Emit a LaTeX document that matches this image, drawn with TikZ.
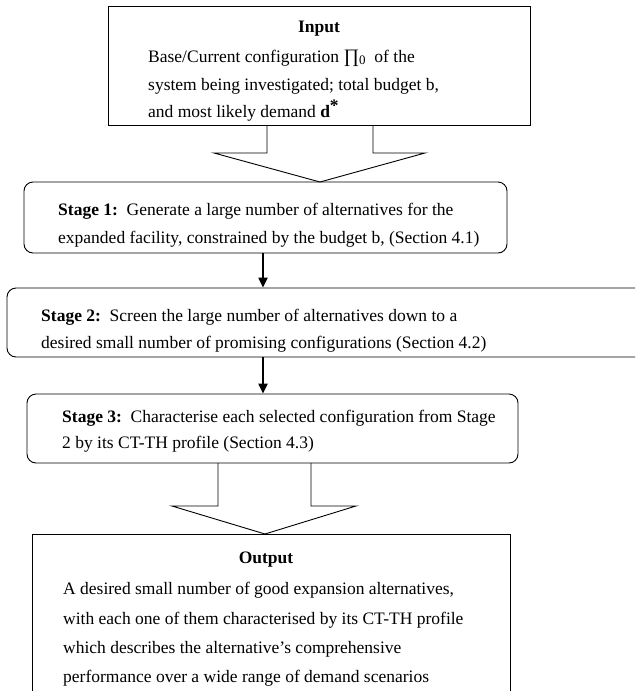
\documentclass[tikz,border=0pt]{standalone}
\usepackage{fontspec}
\setmainfont{Liberation Serif}
\usetikzlibrary{arrows.meta}
\begin{document}
\begin{tikzpicture}[x=1pt,y=-1pt,
  box/.style={draw,line width=0.9pt,inner sep=0pt},
  rbox/.style={box,rounded corners=9pt},
  txt/.style={anchor=base west,inner sep=0pt,font=\fontsize{17.5}{21}\selectfont},
  ttl/.style={anchor=base,inner sep=0pt,font=\fontsize{17.5}{21}\selectfont\bfseries},
  flow/.style={line width=2.2pt,-{Triangle[length=10pt,width=9pt]}},
  blk/.style={line width=0.9pt}]
\useasboundingbox (0,0) rectangle (635,691);
\clip (0,0) rectangle (635,691);
% boxes
\node[box, minimum width=422pt, minimum height=119pt] (in) at (319,65.5) {};
\node[rbox, minimum width=483pt, minimum height=71pt] (s1) at (265.5,217.5) {};
\node[rbox, minimum width=640pt, minimum height=69pt] (s2) at (327,322.5) {};
\node[rbox, minimum width=491pt, minimum height=69pt] (s3) at (272.5,428.5) {};
\node[box, minimum width=478pt, minimum height=180pt] (out) at (271,624) {};
% input text
\node[ttl] (inT) at (319,32) {Input};
\node[txt] (in1) at (148,62) {Base/Current configuration {\fontsize{19}{21}\selectfont ∏}\raisebox{-2.5pt}{\fontsize{13}{14}\selectfont 0}\ \ of the};
\node[txt] (in2) at (148,90) {system being investigated; total budget b,};
\node[txt] (in3) at (148,117) {and most likely demand \textbf{d}\raisebox{6pt}{\textbf{*}}};
% stage texts
\node[txt] (a1) at (58,215) {\textbf{Stage 1:}\ \ Generate a large number of alternatives for the};
\node[txt] (a2) at (58,243) {expanded facility, constrained by the budget b, (Section 4.1)};
\node[txt] (b1) at (41,321) {\textbf{Stage 2:}\ \ Screen the large number of alternatives down to a};
\node[txt] (b2) at (41,348) {desired small number of promising configurations (Section 4.2)};
\node[txt] (c1) at (62,422) {\textbf{Stage 3:}\ \ Characterise each selected configuration from Stage};
\node[txt] (c2) at (62,448) {2 by its CT-TH profile (Section 4.3)};
% output text
\node[ttl] (outT) at (266,563) {Output};
\node[txt] (o1) at (63,594) {A desired small number of good expansion alternatives,};
\node[txt] (o2) at (63,624) {with each one of them characterised by its CT-TH profile};
\node[txt] (o3) at (63,653) {which describes the alternative's comprehensive};
\node[txt] (o4) at (63,682) {performance over a wide range of demand scenarios};
% block arrows
\draw[blk] (267,125) -- (267,153) -- (214,153) -- (320,182) -- (425,153) -- (373,153) -- (373,125);
\draw[blk] (218,463) -- (218,506) -- (172,506) -- (265,534) -- (356,506) -- (311,506) -- (311,463);
% thin flow arrows
\draw[flow] ([xshift=-2.5pt]s1.south) -- ([xshift=-2.5pt]s1.south |- s2.north);
\draw[flow] ([xshift=-2.5pt]s1.south |- s2.south) -- ([xshift=-2.5pt]s1.south |- s3.north);
\end{tikzpicture}
\end{document}
